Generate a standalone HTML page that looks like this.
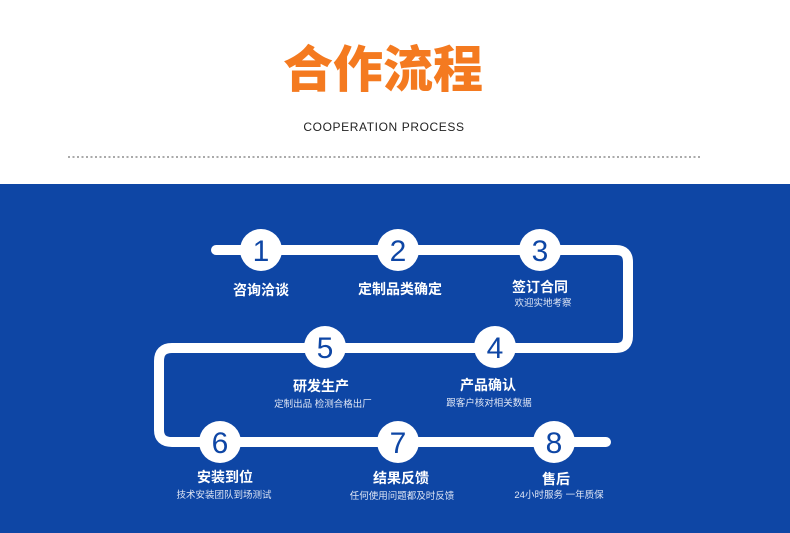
<!DOCTYPE html>
<html><head><meta charset="utf-8"><style>
body{margin:0;width:790px;height:533px;overflow:hidden;background:#fff;position:relative;font-family:"Liberation Sans","Noto Sans CJK SC",sans-serif}
.t{position:absolute;text-align:center}
</style></head><body>
<div class="t" style="left:-12px;width:790px;top:40px;font-size:50px;font-weight:900;color:#f47a20;line-height:60px">合作流程</div>
<div class="t" style="left:-11px;width:790px;top:119px;font-size:12px;color:#222;letter-spacing:0.6px;line-height:16px">COOPERATION PROCESS</div>
<div style="position:absolute;left:68px;top:156px;width:632px;height:2px;background-image:linear-gradient(90deg,#aaa 2px,transparent 2px);background-size:4.5px 2px"></div>
<svg style="position:absolute;left:0;top:184px" width="790" height="349" viewBox="0 184 790 349" font-family="Liberation Sans, Noto Sans CJK SC, sans-serif">
<rect x="0" y="184" width="790" height="349" fill="#0e46a5"/>
<path d="M216 250 H616 Q628 250 628 262 V336 Q628 348 616 348 H172 Q159 348 159 361 V430 Q159 442 172 442 H606" fill="none" stroke="#fff" stroke-width="10" stroke-linecap="round"/>
<g fill="#fff">
<circle cx="261" cy="250" r="21"/><circle cx="398" cy="250" r="21"/><circle cx="540" cy="250" r="21"/>
<circle cx="325" cy="347" r="21"/><circle cx="495" cy="347" r="21"/>
<circle cx="220" cy="442" r="21"/><circle cx="398" cy="442" r="21"/><circle cx="554" cy="442" r="21"/>
</g>
<g fill="#0e46a5" font-size="30" text-anchor="middle">
<text x="261" y="261">1</text><text x="398" y="261">2</text><text x="540" y="261">3</text>
<text x="325" y="358">5</text><text x="495" y="358">4</text>
<text x="220" y="453">6</text><text x="398" y="453">7</text><text x="554" y="453">8</text>
</g>
<g fill="#fff" font-size="14" font-weight="bold" text-anchor="middle">
<text x="261" y="295">咨询洽谈</text><text x="400" y="294">定制品类确定</text><text x="540" y="292">签订合同</text>
<text x="321" y="391">研发生产</text><text x="488" y="390">产品确认</text>
<text x="225" y="482">安装到位</text><text x="401" y="483">结果反馈</text><text x="556" y="484">售后</text>
</g>
<g fill="#dfe6f5" font-size="9.5" text-anchor="middle">
<text x="543" y="306">欢迎实地考察</text>
<text x="323" y="407">定制出品 检测合格出厂</text><text x="489" y="406">跟客户核对相关数据</text>
<text x="224" y="498">技术安装团队到场测试</text><text x="402" y="499">任何使用问题都及时反馈</text><text x="559" y="498">24小时服务 一年质保</text>
</g>
</svg>
</body></html>
